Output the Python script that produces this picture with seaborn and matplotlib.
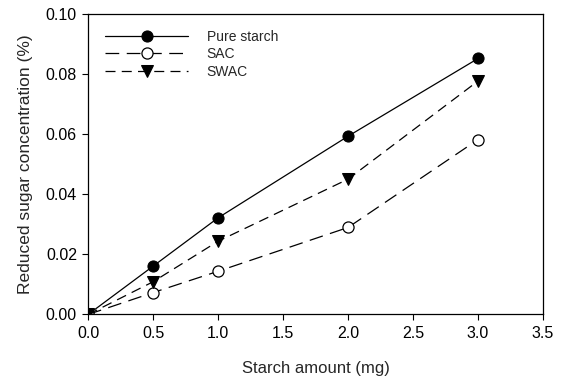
import pandas as pd
import matplotlib
matplotlib.use("Agg")
import matplotlib.pyplot as plt
import seaborn as sns

# values
starch_mg = [0.0, 0.5, 1.0, 2.0, 3.0]
pure_starch = [0.0, 0.0161, 0.0322, 0.0594, 0.0853]
sac = [0.0, 0.0073, 0.0144, 0.0290, 0.0583]
swac = [0.0, 0.0109, 0.0244, 0.0451, 0.0778]

sns.set_style("ticks")
plt.rcParams["font.family"] = ["Liberation Sans", "DejaVu Sans"]

fig = plt.figure(figsize=(5.61, 3.78), dpi=100)
ax = fig.add_axes([0.157, 0.168, 0.811, 0.794])

df = pd.DataFrame({"x": starch_mg, "Pure starch": pure_starch, "SAC": sac, "SWAC": swac})

sns.lineplot(data=df, x="x", y="Pure starch", ax=ax, color="black", lw=0.9,
             marker="o", markersize=8, markerfacecolor="black", markeredgecolor="black",
             linestyle="-", label="Pure starch")
sns.lineplot(data=df, x="x", y="SAC", ax=ax, color="black", lw=0.9,
             marker="o", markersize=8, markerfacecolor="white", markeredgecolor="black",
             markeredgewidth=0.9, linestyle=(0, (11, 6)), label="SAC")
sns.lineplot(data=df, x="x", y="SWAC", ax=ax, color="black", lw=0.9,
             marker="v", markersize=8, markerfacecolor="black", markeredgecolor="black",
             linestyle=(0, (8, 5)), label="SWAC")

ax.set_xlim(0, 3.5)
ax.set_ylim(0, 0.10)
ax.set_xticks([0, 0.5, 1.0, 1.5, 2.0, 2.5, 3.0, 3.5])
ax.set_yticks([0, 0.02, 0.04, 0.06, 0.08, 0.10])
ax.xaxis.set_major_formatter(matplotlib.ticker.FormatStrFormatter("%.1f"))
ax.yaxis.set_major_formatter(matplotlib.ticker.FormatStrFormatter("%.2f"))
ax.tick_params(direction="out", length=4, width=0.8, labelsize=11.5, colors="black", pad=4)
for s in ax.spines.values():
    s.set_color("black")
    s.set_linewidth(0.9)

ax.set_xlabel("Starch amount (mg)", fontsize=12, labelpad=15)
ax.set_ylabel("Reduced sugar concentration (%)", fontsize=12.5, labelpad=9)

ax.legend(loc="upper left", frameon=False, fontsize=10, handlelength=6,
          borderaxespad=0.5, labelspacing=0.25, handletextpad=1.3,
          bbox_to_anchor=(0.01, 0.99))

fig.savefig("out.png", dpi=100)
